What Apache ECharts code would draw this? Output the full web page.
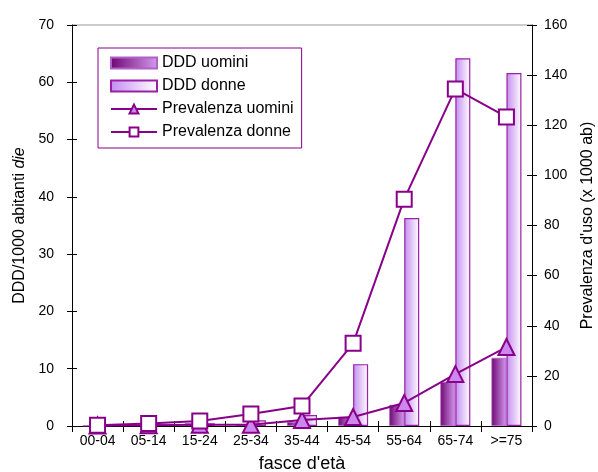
<!DOCTYPE html>
<html>
<head>
<meta charset="utf-8">
<script src="https://cdn.jsdelivr.net/npm/echarts@6/dist/echarts.min.js"></script>
<style>
  html, body { margin: 0; padding: 0; background: #fff; }
  #chart { width: 598px; height: 472px; }
</style>
</head>
<body>
<div id="chart"></div>
<script>
// Age bands
const categories = ['00-04', '05-14', '15-24', '25-34', '35-44', '45-54', '55-64', '65-74', '>=75'];
// DDD per 1000 inhabitants per day
const dddUomini = [0.1, 0.2, 0.5, 0.3, 0.7, 1.6, 3.7, 7.7, 11.9];
const dddDonne = [0.1, 0.3, 0.5, 1.0, 1.9, 10.8, 36.3, 64.2, 61.6];
// Prevalence of use (per 1000 inhabitants)
const prevUomini = [0.2, 0.3, 0.5, 0.5, 2.4, 3.6, 9.2, 20.7, 31.5];
const prevDonne = [0.3, 1.0, 2.0, 4.8, 8.0, 33.0, 90.5, 134.5, 123.3];
// Axis tick values
const leftTicks = { min: 0, max: 70, step: 10 };
const rightTicks = { min: 0, max: 160, step: 20 };

const PURPLE = '#880088';
const FONT = '"Liberation Sans", Arial, sans-serif';

const gradUomini = new echarts.graphic.LinearGradient(0, 0, 1, 0, [
  { offset: 0, color: '#6e0670' },
  { offset: 1, color: '#d49af0' }
]);
const gradDonne = new echarts.graphic.LinearGradient(0, 0, 1, 0, [
  { offset: 0, color: '#c48cf0' },
  { offset: 1, color: '#ffffff' }
]);

// second copy of an axis that only draws inward ticks, so ticks cross the axis line
function innerTicks(axis, extra) {
  return Object.assign({
    axisLine: { show: false },
    axisLabel: { show: false },
    splitLine: { show: false },
    axisTick: { show: true, inside: true, length: 5, lineStyle: { color: '#000' } }
  }, axis, extra);
}

const chart = echarts.init(document.getElementById('chart'), null, { renderer: 'canvas' });

chart.setOption({
  animation: false,
  backgroundColor: '#fff',
  textStyle: { fontFamily: FONT },
  grid: { left: 72, right: 66, top: 25, bottom: 46, containLabel: false, outerBoundsMode: 'none' },
  legend: {
    left: 98, top: 48, orient: 'vertical',
    padding: [7, 8, 8, 12],
    itemGap: 7,
    itemWidth: 46, itemHeight: 11,
    borderColor: PURPLE, borderWidth: 1,
    backgroundColor: '#fff',
    textStyle: { fontSize: 16, color: '#000', fontFamily: FONT, padding: [0, 0, 0, 0] },
    data: [
      { name: 'DDD uomini', icon: 'rect' },
      { name: 'DDD donne', icon: 'rect' },
      { name: 'Prevalenza uomini' },
      { name: 'Prevalenza donne' }
    ]
  },
  xAxis: [
    {
      type: 'category',
      data: categories,
      name: "fasce d'età",
      nameLocation: 'middle',
      nameGap: 29,
      nameTextStyle: { fontSize: 18, color: '#000' },
      axisLine: { lineStyle: { color: '#000', width: 1 } },
      axisTick: { show: true, length: 6, lineStyle: { color: '#000' } },
      axisLabel: { fontSize: 14, color: '#000', margin: 8 }
    },
    innerTicks({ type: 'category', data: categories, position: 'bottom' })
  ],
  yAxis: [
    {
      type: 'value',
      min: leftTicks.min, max: leftTicks.max, interval: leftTicks.step,
      name: 'DDD/1000 abitanti {i|die}',
      nameLocation: 'middle',
      nameGap: 44,
      nameTextStyle: {
        fontSize: 16, color: '#000',
        rich: { i: { fontStyle: 'italic', fontSize: 16, color: '#000' } }
      },
      axisLine: { show: true, lineStyle: { color: '#000' } },
      axisTick: { show: true, length: 5, lineStyle: { color: '#000' } },
      axisLabel: { fontSize: 14, color: '#000', margin: 18 },
      splitLine: { show: false }
    },
    {
      type: 'value',
      min: rightTicks.min, max: rightTicks.max, interval: rightTicks.step,
      position: 'right',
      name: "Prevalenza d'uso (x 1000 ab)",
      nameLocation: 'middle',
      nameGap: 48,
      nameRotate: 90,
      nameTextStyle: { fontSize: 16, color: '#000' },
      axisLine: { show: true, lineStyle: { color: '#000' } },
      axisTick: { show: true, length: 5, lineStyle: { color: '#000' } },
      axisLabel: { fontSize: 14, color: '#000', margin: 12 },
      splitLine: { show: false }
    },
    innerTicks({ type: 'value', min: leftTicks.min, max: leftTicks.max, interval: leftTicks.step, position: 'left' }),
    innerTicks({ type: 'value', min: rightTicks.min, max: rightTicks.max, interval: rightTicks.step, position: 'right' })
  ],
  series: [
    {
      name: 'DDD uomini', type: 'bar', yAxisIndex: 0,
      data: dddUomini,
      barWidth: 15, barGap: '0%',
      itemStyle: { color: gradUomini, borderColor: '#b060c8', borderWidth: 0.8 },
      z: 2
    },
    {
      name: 'DDD donne', type: 'bar', yAxisIndex: 0,
      data: dddDonne,
      barWidth: 15, barGap: '0%',
      itemStyle: { color: gradDonne, borderColor: '#9a20a8', borderWidth: 1.2 },
      z: 2
    },
    {
      name: 'Prevalenza uomini', type: 'line', yAxisIndex: 1,
      data: prevUomini,
      symbol: 'triangle', symbolSize: 16,
      lineStyle: { color: PURPLE, width: 2 },
      itemStyle: { color: '#cc88ee', borderColor: PURPLE, borderWidth: 2 },
      z: 5
    },
    {
      name: 'Prevalenza donne', type: 'line', yAxisIndex: 1,
      data: prevDonne,
      symbol: 'rect', symbolSize: 15,
      lineStyle: { color: PURPLE, width: 2 },
      itemStyle: { color: '#ffffff', borderColor: PURPLE, borderWidth: 2 },
      z: 6
    }
  ],
  graphic: [
    // thin grey frame line along the top of the plot area
    { type: 'line', shape: { x1: 72, y1: 25, x2: 532, y2: 25 }, style: { stroke: '#999', lineWidth: 1 }, silent: true }
  ]
});
</script>
</body>
</html>
